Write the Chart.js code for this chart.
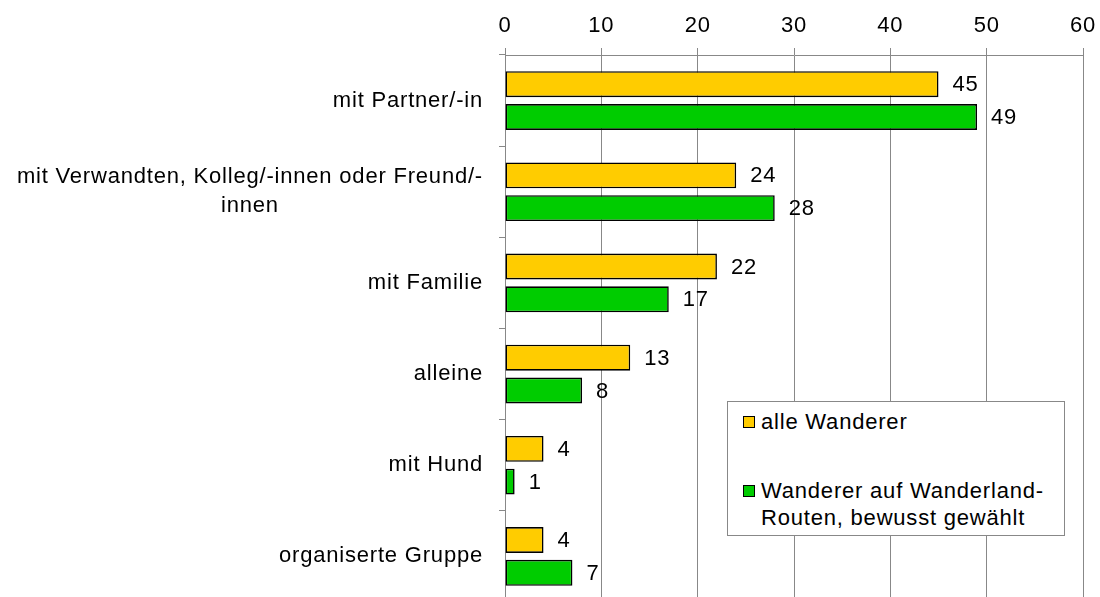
<!DOCTYPE html>
<html>
<head>
<meta charset="utf-8">
<script src="https://cdn.jsdelivr.net/npm/chart.js@4.4.1/dist/chart.umd.min.js"></script>
<style>
    html, body { margin: 0; padding: 0; background: #fff; overflow: hidden; }
    #wrap { position: relative; width: 1100px; height: 602px; }
    #legend {
        position: absolute; left: 727px; top: 401px; width: 338px; height: 135px;
        box-sizing: border-box; border: 1px solid #888; background: #fff;
        font: 22px 'Liberation Sans', Arial, sans-serif; letter-spacing: 0.8px; color: #000;
        padding: 6px 0 0 15px;
    }
    .item { display: flex; align-items: flex-start; line-height: 27px; }
    .item + .item { margin-top: 42px; }
    .swatch { width: 12px; height: 12px; box-sizing: border-box; border: 1.5px solid #000; margin: 8px 6px 0 0; flex: none; }
    .txt { width: 296px; }
</style>
</head>
<body>
<div id="wrap">
    <canvas id="myChart" width="1100" height="602"></canvas>
    <div id="legend"></div>
</div>
<script>
// Data
const categories = [
    "mit Partner/-in",
    ["mit Verwandten, Kolleg/-innen oder Freund/-", "innen"],
    "mit Familie",
    "alleine",
    "mit Hund",
    "organiserte Gruppe"
];
const alleWanderer = [45, 24, 22, 13, 4, 4];
const wanderlandWanderer = [49, 28, 17, 8, 1, 7];
const seriesNames = ["alle Wanderer", "Wanderer auf Wanderland-Routen, bewusst gewählt"];
const xTicks = [0, 10, 20, 30, 40, 50, 60];

const FONT = "'Liberation Sans', Arial, sans-serif";
Chart.defaults.font.family = FONT;
Chart.defaults.font.size = 22;
Chart.defaults.color = "#000";

// wider text like the original (canvas letter spacing)
const spacingPlugin = {
    id: "spacing",
    beforeUpdate(chart) { chart.ctx.letterSpacing = "0.8px"; },
    beforeDraw(chart) { chart.ctx.letterSpacing = "0.8px"; }
};

// category labels: block right aligned, lines centered inside the block
const yLabelPlugin = {
    id: "yLabels",
    afterDraw(chart) {
        const ctx = chart.ctx;
        const y = chart.scales.y;
        ctx.save();
        ctx.font = "22px " + FONT;
        ctx.fillStyle = "#000";
        ctx.textBaseline = "middle";
        ctx.textAlign = "center";
        const right = y.right - 22;
        chart.data.labels.forEach((lab, i) => {
            const lines = Array.isArray(lab) ? lab : [lab];
            const w = Math.max(...lines.map(l => ctx.measureText(l).width));
            const cx = right - w / 2;
            const cy = y.getPixelForValue(i);
            lines.forEach((l, j) => {
                ctx.fillText(l, cx, cy + (j - (lines.length - 1) / 2) * 29);
            });
        });
        ctx.restore();
    }
};

// value labels right of the bars
const valueLabelPlugin = {
    id: "valueLabels",
    afterDatasetsDraw(chart) {
        const ctx = chart.ctx;
        ctx.save();
        ctx.font = "22px " + FONT;
        ctx.fillStyle = "#000";
        ctx.textBaseline = "middle";
        ctx.textAlign = "left";
        chart.data.datasets.forEach((ds, di) => {
            chart.getDatasetMeta(di).data.forEach((bar, i) => {
                ctx.fillText(String(ds.data[i]), bar.x + 14, bar.y + 1);
            });
        });
        ctx.restore();
    }
};

const ctx = document.getElementById("myChart").getContext("2d");
const myChart = new Chart(ctx, {
    type: "bar",
    data: {
        labels: categories,
        datasets: [{
            label: seriesNames[0],
            data: alleWanderer,
            backgroundColor: "#FFCC00",
            borderColor: "#000",
            borderWidth: 1.6,
            borderSkipped: false
        }, {
            label: seriesNames[1],
            data: wanderlandWanderer,
            backgroundColor: "#00CC00",
            borderColor: "#000",
            borderWidth: 1.6,
            borderSkipped: false
        }]
    },
    options: {
        indexAxis: "y",
        responsive: false,
        animation: false,
        devicePixelRatio: 1,
        categoryPercentage: 0.72,
        barPercentage: 0.79,
        layout: { padding: { left: 0, right: 17, top: 0, bottom: 0 } },
        plugins: {
            legend: { display: false },
            tooltip: { enabled: false }
        },
        scales: {
            x: {
                position: "top",
                min: 0,
                max: 60,
                afterBuildTicks: scale => { scale.ticks = xTicks.map(v => ({ value: v })); },
                afterFit: scale => {
                    scale.height = 55;
                    scale.paddingLeft = 0;
                    scale.paddingRight = 0;
                },
                ticks: { padding: 9, color: "#000" },
                grid: { color: "#888", tickLength: 7, lineWidth: 1 },
                border: { color: "#888" }
            },
            y: {
                afterFit: scale => { scale.width = 505; },
                ticks: { display: false },
                grid: { drawOnChartArea: false, color: "#888", tickLength: 6 },
                border: { color: "#888" }
            }
        }
    },
    plugins: [spacingPlugin, yLabelPlugin, valueLabelPlugin]
});

// html legend built from the datasets
function buildLegend(chart) {
    const box = document.getElementById("legend");
    box.innerHTML = "";
    chart.data.datasets.forEach(ds => {
        const item = document.createElement("div");
        item.className = "item";
        const sw = document.createElement("span");
        sw.className = "swatch";
        sw.style.background = ds.backgroundColor;
        const txt = document.createElement("span");
        txt.className = "txt";
        txt.textContent = ds.label;
        item.appendChild(sw);
        item.appendChild(txt);
        box.appendChild(item);
    });
}

buildLegend(myChart);
</script>
</body>
</html>
